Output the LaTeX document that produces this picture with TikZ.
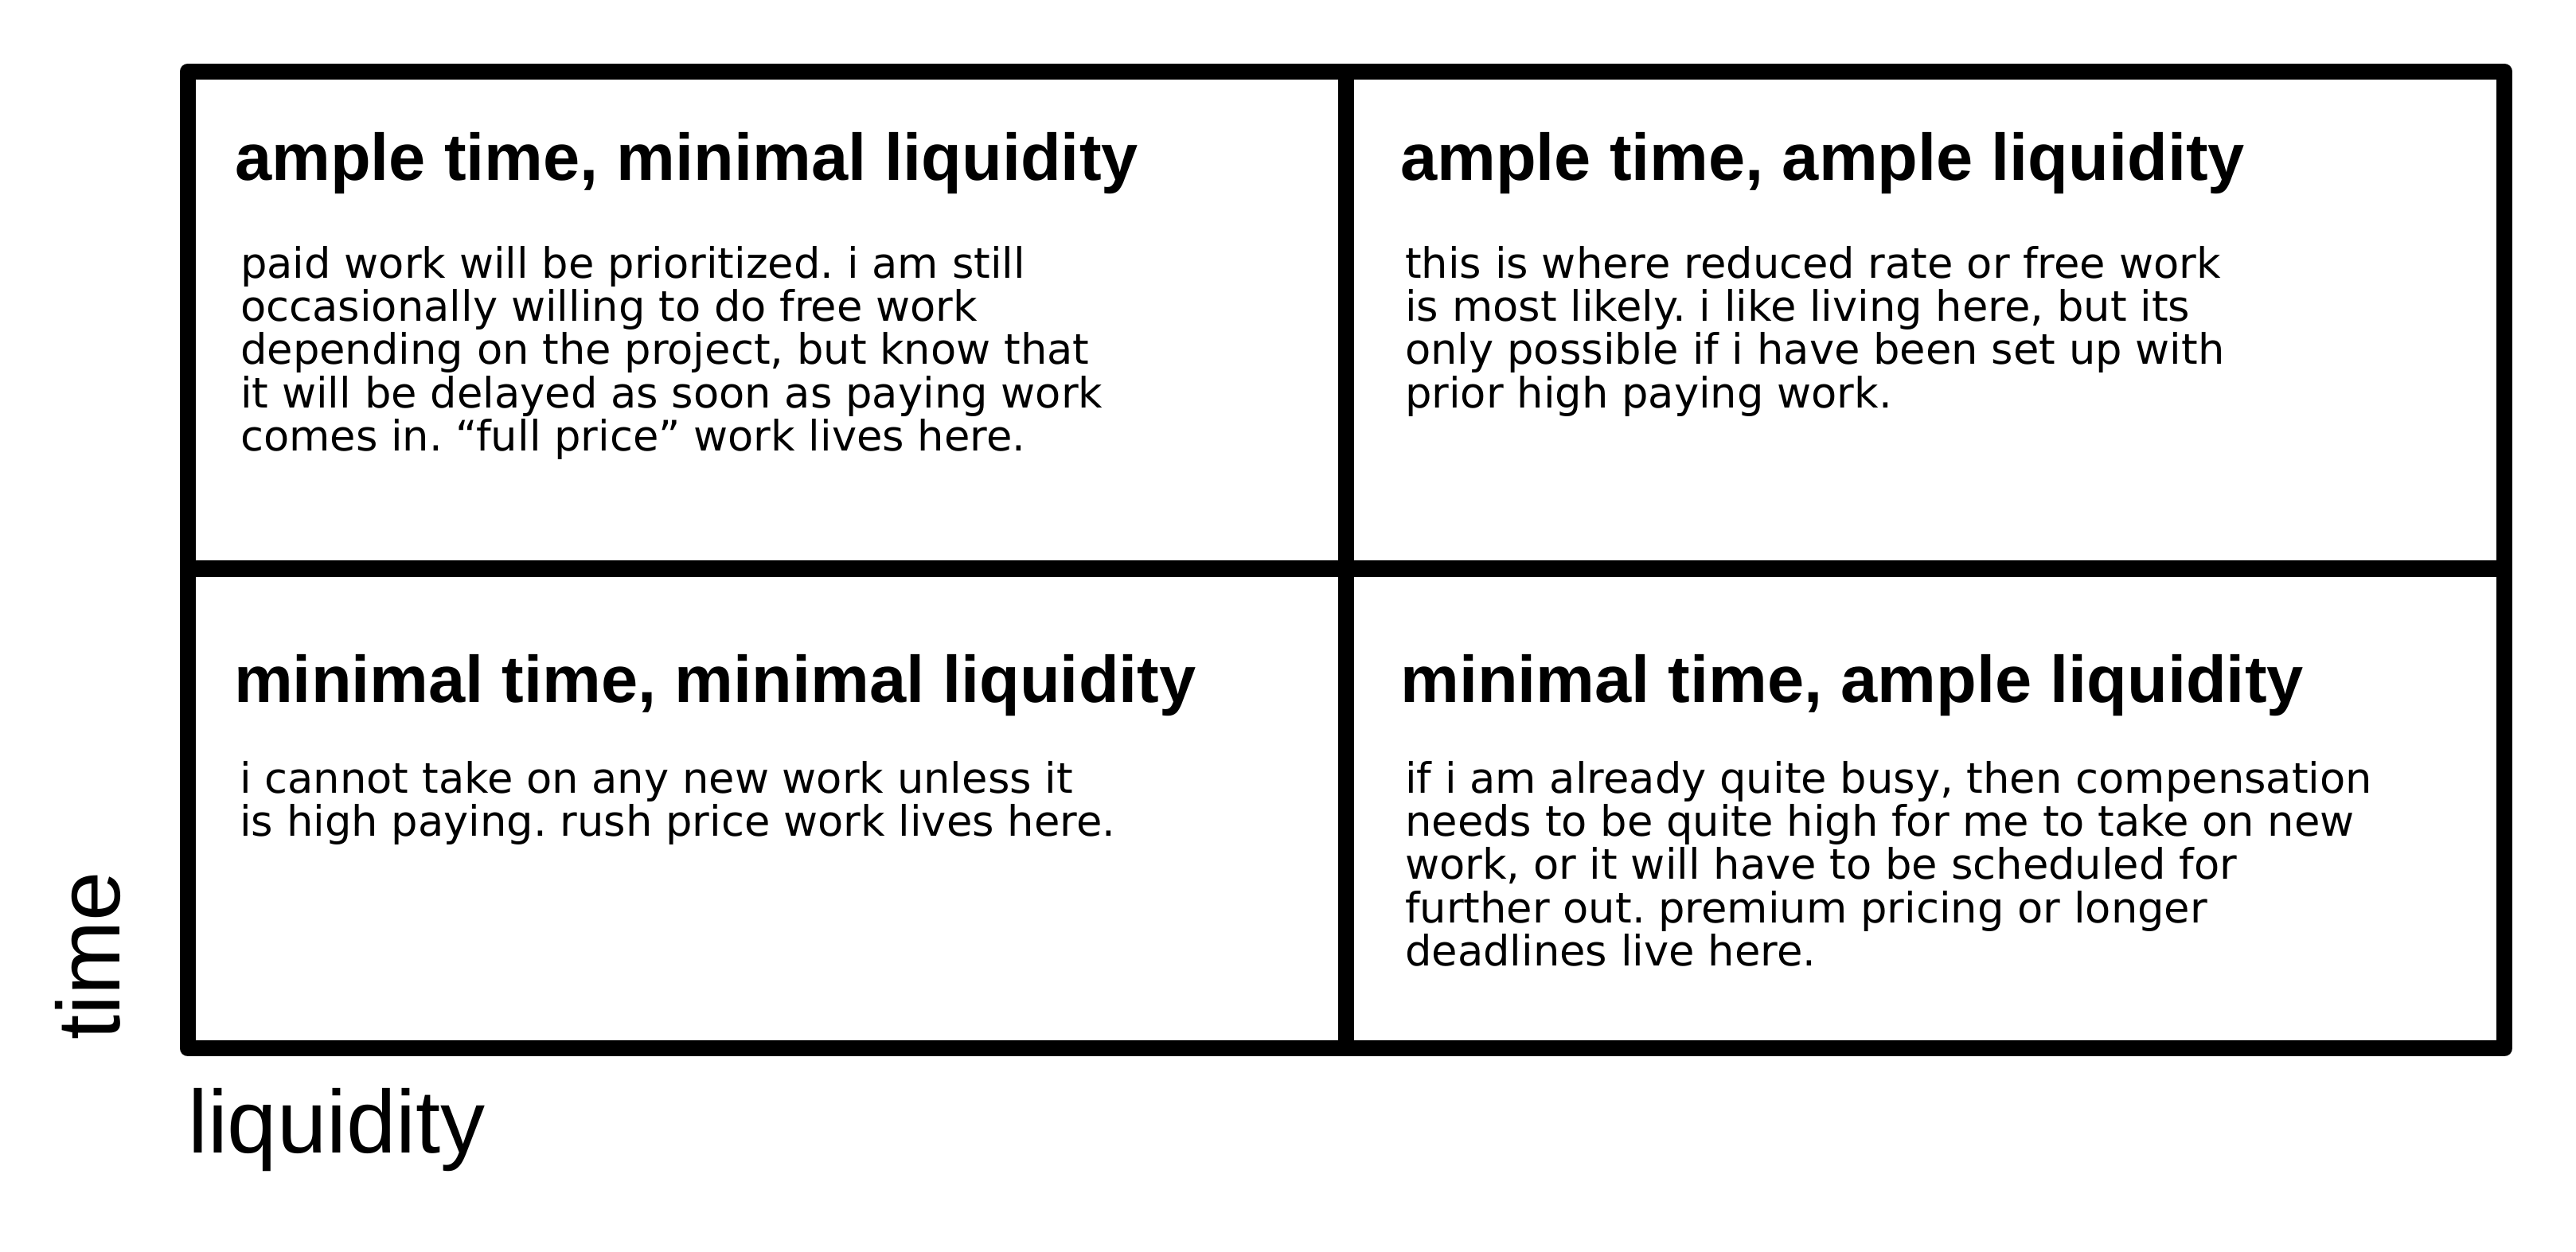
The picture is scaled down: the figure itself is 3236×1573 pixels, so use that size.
\documentclass[tikz,border=0pt]{standalone}
\usepackage{fontspec}
\setmainfont{Liberation Sans}
\newfontfamily\bodyfont{DejaVu Sans}
\frenchspacing
\newcommand{\textlines}[1]{\vtop{\def\\{\egroup\hbox\bgroup}\hbox\bgroup#1\egroup}}
\begin{document}
\begin{tikzpicture}[x=1pt,y=-1pt,
  gridline/.style={line width=20.5pt, line join=round},
  head/.style={anchor=base west, inner sep=0pt, font=\fontsize{83}{90}\selectfont\bfseries},
  body/.style={anchor=base west, inner sep=0pt, font=\bodyfont\fontsize{52.7}{54.4}\selectfont\frenchspacing},
  axislabel/.style={anchor=base west, inner sep=0pt, font=\fontsize{112}{120}\selectfont}]
\useasboundingbox (0,0) rectangle (3236,1573);
\fill[white] (0,0) rectangle (3236,1573);
% grid
\coordinate (tl) at (236,90);
\coordinate (br) at (3146,1317);
\coordinate (mt) at (1691,90);
\coordinate (mb) at (1691,1317);
\coordinate (ml) at (236,714.5);
\coordinate (mr) at (3146,714.5);
\draw[gridline] (tl) rectangle (br);
\draw[gridline] (mt) -- (mb);
\draw[gridline] (ml) -- (mr);
% headings
\node[head] (h1) at (295,226) {ample time, minimal liquidity};
\node[head] (h2) at (1759,226) {ample time, ample liquidity};
\node[head] (h3) at (294,882) {minimal time, minimal liquidity};
\node[head] (h4) at (1759,882) {minimal time, ample liquidity};
% bodies
\node[body] (b1) at (302,349) {\textlines{paid work will be prioritized. i am still\\occasionally willing to do free work\\depending on the project, but know that\\it will be delayed as soon as paying work\\comes in. “full price” work lives here.}};
\node[body] (b2) at (1765,349) {\textlines{this is where reduced rate or free work\\is most likely. i like living here, but its\\only possible if i have been set up with\\prior high paying work.}};
\node[body] (b3) at (301,996) {\textlines{i cannot take on any new work unless it\\is high paying. rush price work lives here.}};
\node[body] (b4) at (1765,996) {\textlines{if i am already quite busy, then compensation\\needs to be quite high for me to take on new\\work, or it will have to be scheduled for\\further out. premium pricing or longer\\deadlines live here.}};
% axis labels
\node[axislabel, rotate=90] (time) at (150,1307) {time};
\node[axislabel] (liq) at (236,1448) {liquidity};
\end{tikzpicture}
\end{document}
